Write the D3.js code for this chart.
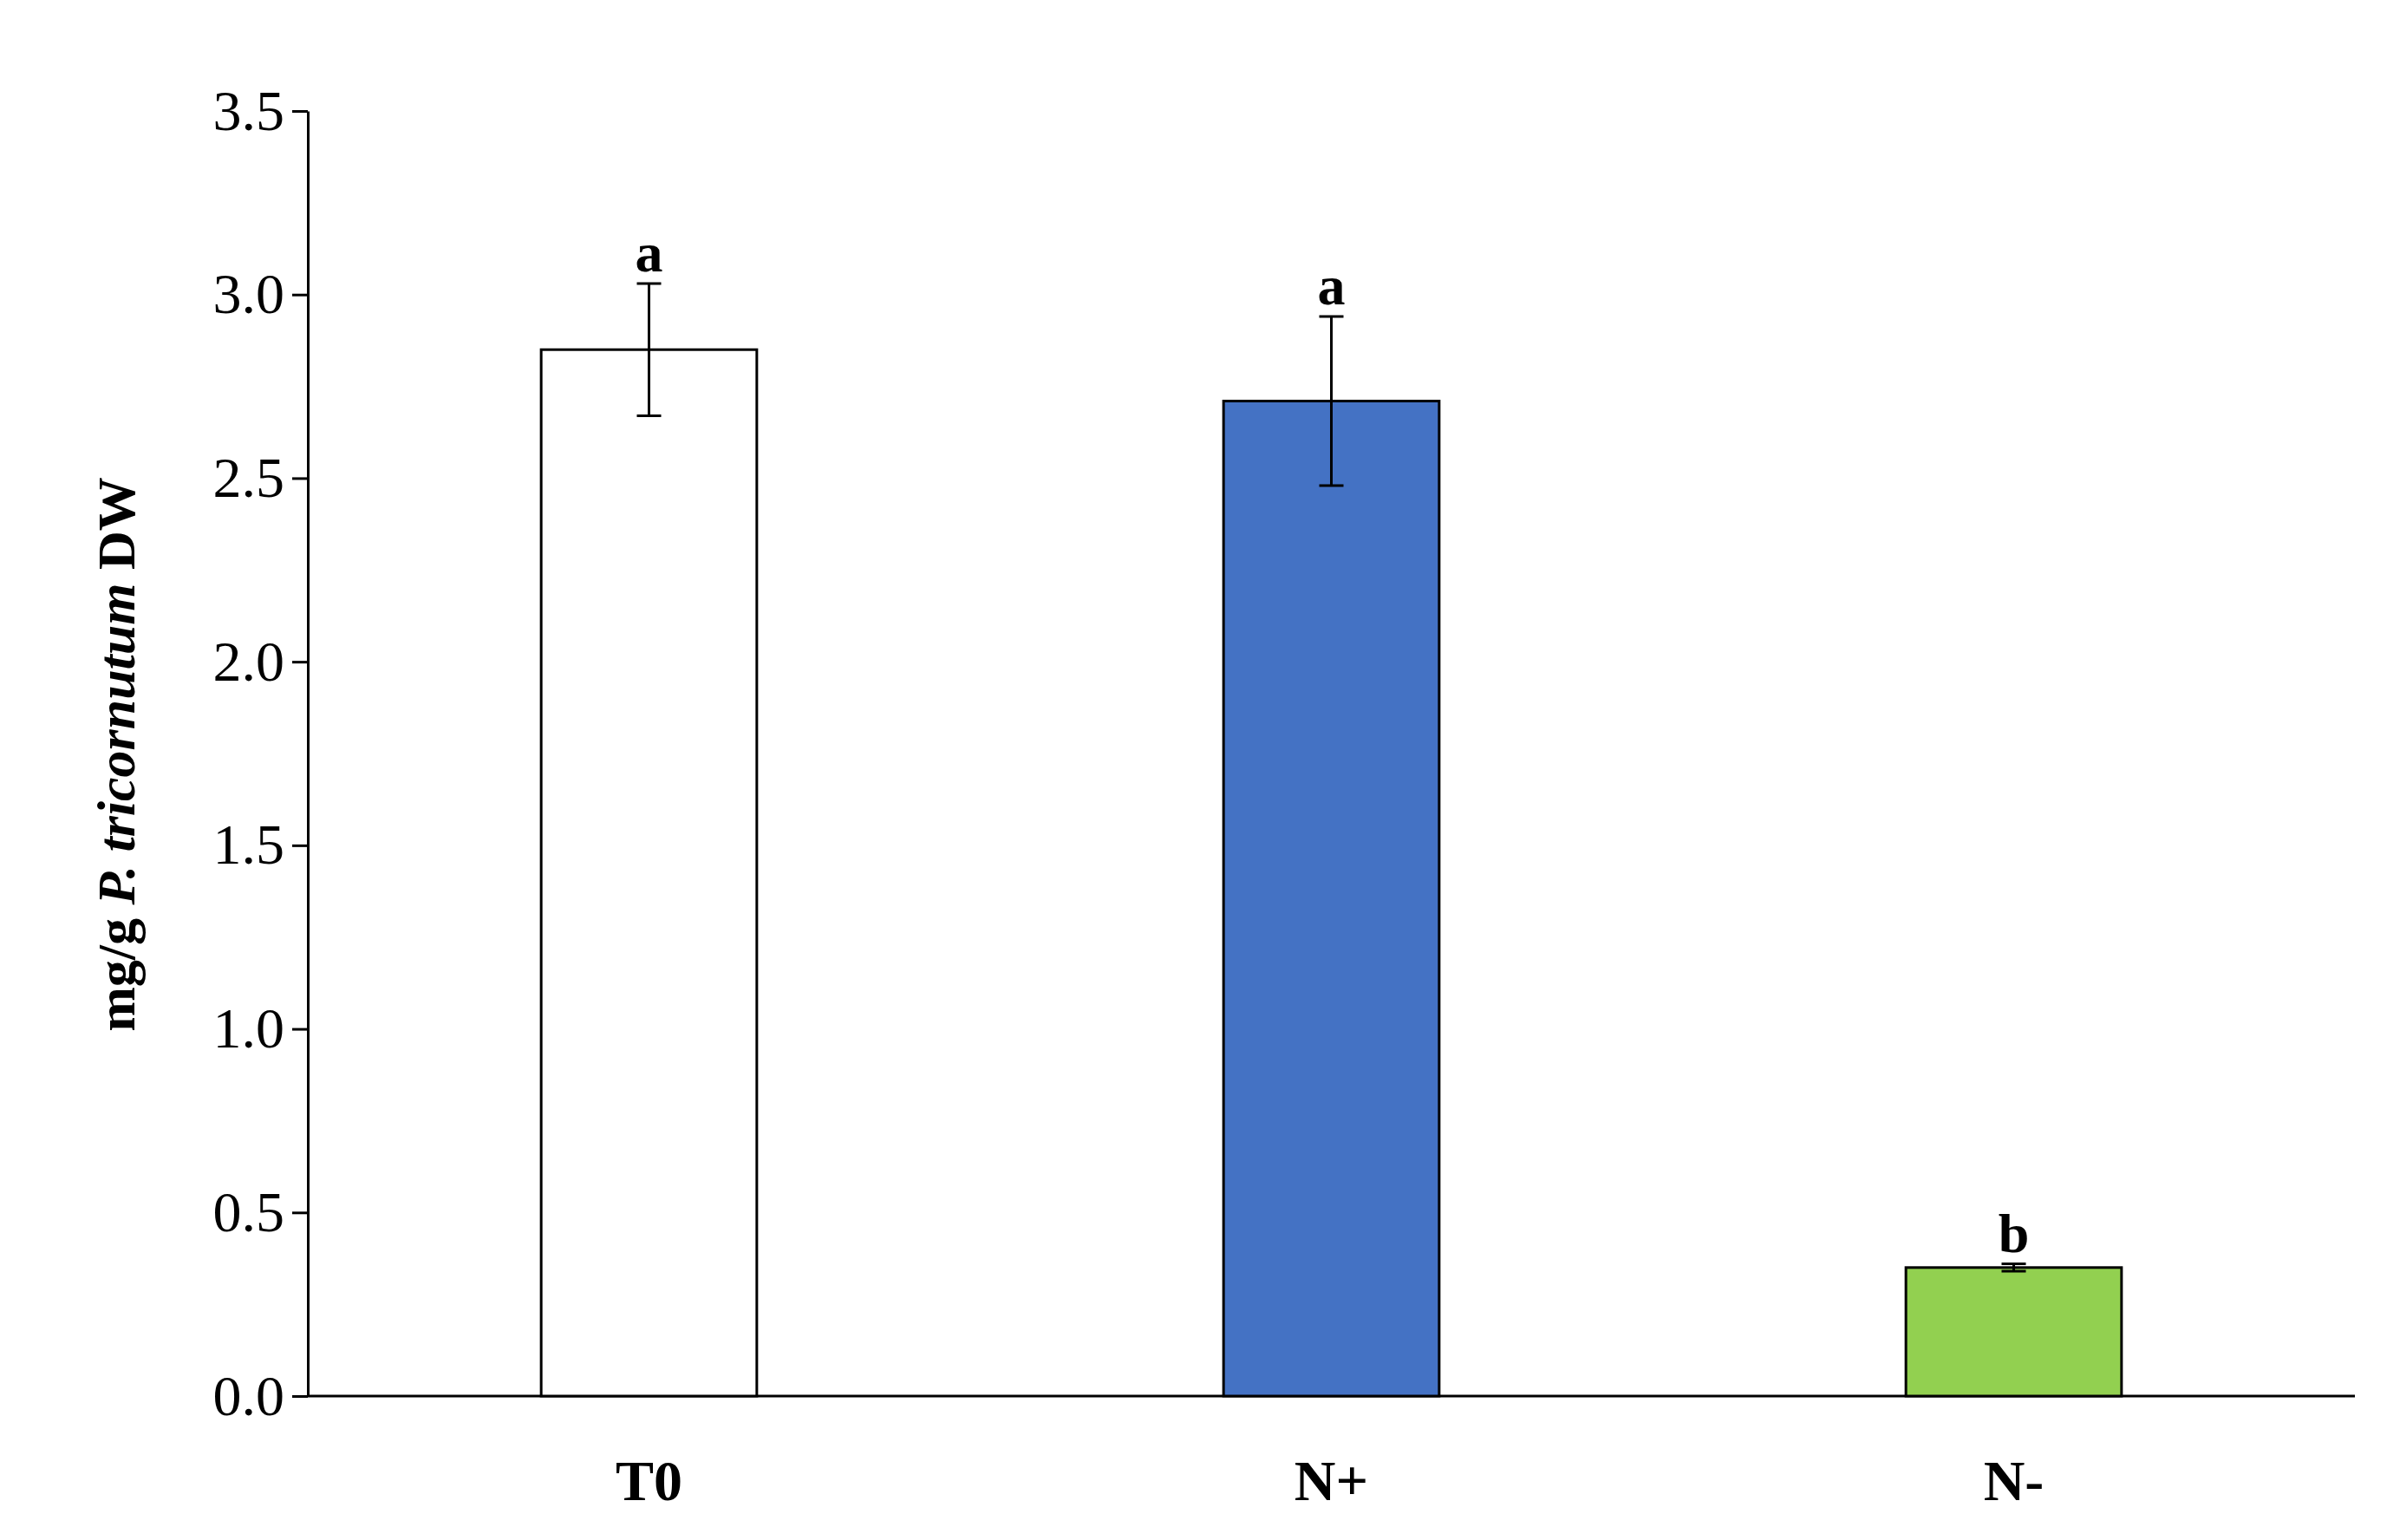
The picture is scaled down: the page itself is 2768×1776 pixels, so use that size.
<!DOCTYPE html><html><head><meta charset="utf-8">
<script src="https://cdn.jsdelivr.net/npm/d3@7"></script>
<style>body{margin:0;background:#fff}</style></head><body>
<svg id="c" width="2768" height="1776"></svg>
<script>
const categories=["T0","N+","N-"];
const values=[2.85,2.71,0.35];
const errors=[0.18,0.23,0.01];
const letters=["a","a","b"];
const colors=["#ffffff","#4472c4","#92d050"];
const yTicks=[0,0.5,1,1.5,2,2.5,3,3.5];
const svg=d3.select("#c");
const m={l:355,r:2716,t:128,b:1610};
const x=d3.scaleBand().domain(categories).range([m.l,m.r]).paddingInner(0.684).paddingOuter(0.342);
const y=d3.scaleLinear().domain([0,3.5]).range([m.b,m.t]);
const font="'Liberation Serif','Times New Roman',serif";
const ya=svg.append("g").attr("transform",`translate(${m.l},0)`).call(d3.axisLeft(y).tickValues(yTicks).tickFormat(d3.format(".1f")).tickSize(18).tickSizeOuter(0));
ya.select(".domain").attr("stroke-width",3);
ya.selectAll("line").attr("stroke-width",3);
ya.selectAll("text").attr("font-family",font).attr("font-size",66).attr("dx",-6).attr("fill","#000");
const xa=svg.append("g").attr("transform",`translate(0,${m.b})`).call(d3.axisBottom(x).tickSize(0).tickSizeOuter(0));
xa.select(".domain").attr("stroke-width",3).attr("d",`M${m.l},0H${m.r}`);
xa.selectAll("text").attr("font-family",font).attr("font-size",66).attr("font-weight","bold").attr("dy",0).attr("y",120).attr("fill","#000");
const g=svg.append("g");
categories.forEach((c,i)=>{
 g.append("rect").attr("x",x(c)).attr("width",x.bandwidth()).attr("y",y(values[i])).attr("height",y(0)-y(values[i])).attr("fill",colors[i]).attr("stroke","#000").attr("stroke-width",3);
 const cx=x(c)+x.bandwidth()/2, hi=y(values[i]+errors[i]), lo=y(values[i]-errors[i]);
 g.append("path").attr("d",`M${cx},${hi}V${lo}M${cx-14},${hi}H${cx+14}M${cx-14},${lo}H${cx+14}`).attr("stroke","#000").attr("stroke-width",3).attr("fill","none");
 g.append("text").attr("x",cx).attr("y",hi-14).attr("text-anchor","middle").attr("font-family",font).attr("font-weight","bold").attr("font-size",64).text(letters[i]);
});
const t=svg.append("text").attr("transform","translate(155,870) rotate(-90)").attr("text-anchor","middle").attr("font-family",font).attr("font-weight","bold").attr("font-size",62);
t.append("tspan").text("mg/g ");
t.append("tspan").attr("font-style","italic").text("P. tricornutum");
t.append("tspan").text(" DW");
</script></body></html>
